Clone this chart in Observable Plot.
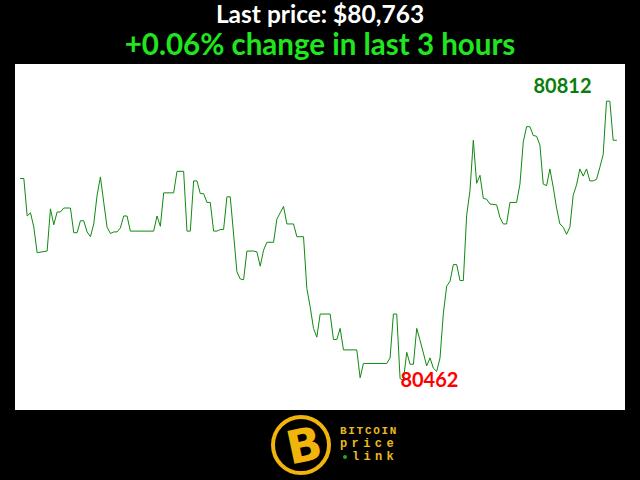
<!DOCTYPE html>
<html>
<head>
<meta charset="utf-8">
<script src="https://cdn.jsdelivr.net/npm/d3@7"></script>
<script src="https://cdn.jsdelivr.net/npm/@observablehq/plot@0.6"></script>
<style>
  html, body { margin: 0; padding: 0; background: #000; width: 640px; height: 480px; overflow: hidden; }
  #title { position: absolute; left: 0; top: 0px; width: 640px; text-align: center; color: #fff;
    font-family: Lato, "Open Sans", sans-serif; font-weight: 700; font-size: 24.5px; line-height: 28px; height: 28px; }
  #subtitle { position: absolute; left: 0; top: 28px; width: 640px; text-align: center; color: #1fe61f;
    font-family: Lato, "Open Sans", sans-serif; font-weight: 700; font-size: 29.5px; line-height: 32px; height: 32px; }
  #chart { position: absolute; left: 15px; top: 64px; width: 610px; height: 346px; background: #fff; }
  #logo { position: absolute; left: 0; top: 410px; }
</style>
</head>
<body>
<div id="title"></div>
<div id="subtitle"></div>
<div id="chart"></div>
<svg id="logo" width="640" height="70">
  <circle cx="301" cy="35" r="28" fill="#000" stroke="#f0b40a" stroke-width="4"></circle>
  <text x="304" y="52" text-anchor="middle" font-family="DejaVu Sans" font-weight="bold" font-size="46" fill="#f0b40a" transform="rotate(-12 301 35)">B</text>
  <text x="340" y="24" font-family="Liberation Mono" font-weight="bold" font-size="11" letter-spacing="1.7" fill="#e8b923">BITCOIN</text>
  <text x="340" y="37" font-family="Liberation Mono" font-weight="bold" font-size="12" letter-spacing="4.4" fill="#e8b923">price</text>
  <circle cx="345" cy="47" r="2" fill="#22aa22"></circle>
  <text x="352" y="50" font-family="Liberation Mono" font-weight="bold" font-size="12" letter-spacing="4.3" fill="#e8b923">link</text>
</svg>
<script>
const lastPrice = "$80,763";
const changeText = "+0.06% change in last 3 hours";

const minute = [0,1,2,3,4,5,8,9,10,11,12,13,15,16,17,18,19,20,21,22,23,24,25,26,27,28,29,30,31,32,33,40,41,42,43,46,47,49,50,51,52,53,54,55,56,57,58,59,60,61,62,63,65,66,67,68,70,71,72,73,74,76,77,78,79,80,82,83,85,86,87,88,89,90,93,94,95,96,97,101,102,103,110,111,112,113,114,115,116,117,118,119,120,122,123,124,125,126,127,128,129,130,131,132,133,134,135,136,137,138,139,140,141,143,144,145,146,147,149,150,151,152,153,154,155,156,157,158,159,160,161,162,163,164,165,166,167,168,169,170,171,172,173,174,175,176,177,178,179];

const price = [80715,80715,80668,80672,80654,80622,80624,80677,80657,80673,80673,80678,80678,80647,80647,80662,80662,80648,80642,80658,80694,80717,80685,80654,80646,80648,80648,80653,80668,80668,80649,80649,80668,80655,80697,80697,80724,80724,80649,80649,80712,80712,80696,80696,80685,80685,80649,80649,80651,80651,80692,80692,80598,80589,80588,80624,80624,80623,80605,80625,80635,80635,80664,80672,80680,80658,80658,80642,80642,80577,80554,80527,80516,80545,80545,80513,80513,80527,80500,80500,80465,80483,80483,80490,80545,80545,80464,80462,80497,80482,80482,80527,80512,80480,80490,80477,80473,80490,80546,80580,80586,80607,80607,80587,80587,80669,80700,80763,80709,80719,80690,80689,80683,80682,80666,80658,80658,80685,80685,80708,80761,80780,80780,80769,80768,80757,80708,80706,80727,80704,80678,80658,80654,80645,80654,80694,80707,80727,80718,80727,80712,80712,80714,80729,80745,80812,80812,80763,80763];

const yDomain = [80424, 80858];

document.getElementById("title").textContent = "Last price: " + lastPrice;
document.getElementById("subtitle").textContent = changeText;

const data = minute.map((m, i) => ({minute: m, price: price[i]}));
const maxD = data.reduce((a, b) => b.price > a.price ? b : a);
const minD = data.reduce((a, b) => b.price < a.price ? b : a);

const chart = Plot.plot({
  width: 610,
  height: 346,
  marginLeft: 5,
  marginRight: 9,
  marginTop: 0,
  marginBottom: 0,
  style: {background: "#fff", overflow: "visible"},
  x: {domain: [0, 179], axis: null},
  y: {domain: yDomain, axis: null},
  marks: [
    Plot.line(data, {x: "minute", y: "price", stroke: "#108a10", strokeWidth: 1, curve: "linear"}),
    Plot.text([maxD], {x: "minute", y: "price", text: d => String(d.price), fill: "#0a7d0a",
      fontSize: 20, fontWeight: "bold", fontFamily: "Lato, sans-serif", textAnchor: "middle", lineAnchor: "bottom", dx: -44, dy: -8}),
    Plot.text([minD], {x: "minute", y: "price", text: d => String(d.price), fill: "#ff0000",
      fontSize: 20, fontWeight: "bold", fontFamily: "Lato, sans-serif", textAnchor: "start", lineAnchor: "top", dx: -3, dy: -7})
  ]
});
document.getElementById("chart").appendChild(chart);
</script>
</body>
</html>
